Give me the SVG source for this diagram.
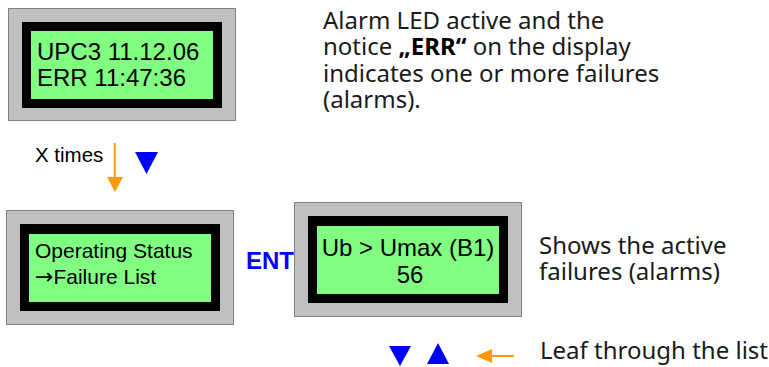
<svg xmlns="http://www.w3.org/2000/svg" width="769" height="367" viewBox="0 0 769 367">
<style>
.bezel{fill:#c0c0c0;stroke:#808080;stroke-width:1}
.frame{fill:#000000}
.lcd{fill:#80ff80}
.lcdt{font-family:"Liberation Sans",Arial,sans-serif;fill:#000000}
.note{font-family:"Noto Sans","Open Sans",sans-serif;font-size:24px;fill:#1a1a1a}
.blue{fill:#0000ff}
.orange{stroke:#ff9900;stroke-width:2;fill:none}
.orangef{fill:#ff9900}
</style>
<rect width="769" height="367" fill="#ffffff"/>
<g id="display1">
<rect class="bezel" x="8.5" y="8.5" width="227" height="112"/>
<rect class="frame" x="22" y="22" width="200" height="86"/>
<rect class="lcd" x="31" y="31" width="182" height="68"/>
<text class="lcdt" x="37" y="60" font-size="24">UPC3 11.12.06</text>
<text class="lcdt" x="37" y="86" font-size="24">ERR 11:47:36</text>
</g>
<g id="display2">
<rect class="bezel" x="6.5" y="210.5" width="227" height="114"/>
<rect class="frame" x="20" y="224" width="200" height="87"/>
<rect class="lcd" x="29" y="234" width="182" height="68"/>
<text class="lcdt" x="35" y="258" font-size="21">Operating Status</text>
<text class="lcdt" x="35" y="284" font-size="21"><tspan font-family="'DejaVu Sans',sans-serif" font-size="22">→</tspan>Failure List</text>
</g>
<g id="display3">
<rect class="bezel" x="294.5" y="202.5" width="227" height="114"/>
<rect class="frame" x="308" y="216" width="200" height="87"/>
<rect class="lcd" x="317" y="226" width="182" height="68"/>
<text class="lcdt" x="408" y="256" font-size="24" text-anchor="middle">Ub &gt; Umax (B1)</text>
<text class="lcdt" x="410" y="283" font-size="24" text-anchor="middle">56</text>
</g>
<g id="note1">
<text class="note" x="323" y="28.5">Alarm LED active and the</text>
<text class="note" x="323" y="55">notice <tspan font-weight="bold" fill="#000">„ERR“</tspan> on the display</text>
<text class="note" x="323" y="81.5">indicates one or more failures</text>
<text class="note" x="323" y="108">(alarms).</text>
</g>
<g id="note2">
<text class="note" x="539" y="253.5">Shows the active</text>
<text class="note" x="539" y="280">failures (alarms)</text>
</g>
<g id="note3">
<text class="note" x="540" y="359">Leaf through the list</text>
</g>
<g id="xtimes">
<text class="lcdt" x="35" y="162" font-size="20.5">X times</text>
</g>
<g id="keys">
<polygon class="blue" points="135,152 158,152 146.5,174"/>
<text x="246" y="269" font-family="'Liberation Sans',Arial,sans-serif" font-size="24" font-weight="bold" fill="#0000ff">ENT</text>
<polygon class="blue" points="389,346 411,346 400,366"/>
<polygon class="blue" points="427,364 449,364 438,343"/>
</g>
<g id="connectors">
<line class="orange" x1="114.7" y1="143" x2="114.7" y2="178"/>
<polygon class="orangef" points="107,177 123,177 115,192"/>
<line class="orange" x1="490" y1="356" x2="514" y2="356"/>
<polygon class="orangef" points="476,356 492,349 492,363"/>
</g>
</svg>
